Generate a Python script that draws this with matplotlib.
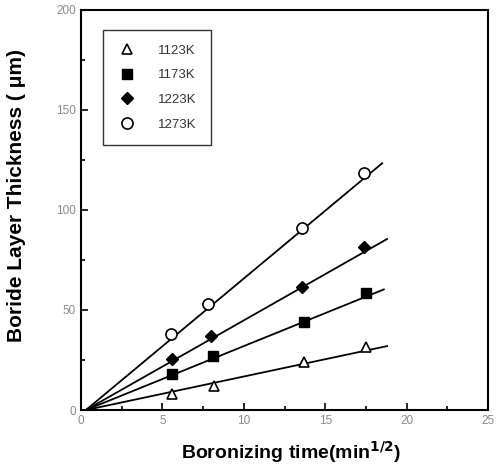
import matplotlib
matplotlib.use("Agg")
import matplotlib.pyplot as plt
import numpy as np

# Data (x = sqrt(time) in min^1/2, y = thickness in um)
labels = ["1123K", "1173K", "1223K", "1273K"]
x_1123 = [5.6, 8.2, 13.7, 17.5]
y_1123 = [8.0, 12.0, 24.0, 31.5]
x_1173 = [5.6, 8.1, 13.7, 17.5]
y_1173 = [18.0, 27.0, 44.0, 58.5]
x_1223 = [5.6, 8.0, 13.6, 17.4]
y_1223 = [25.5, 37.0, 61.5, 81.5]
x_1273 = [5.5, 7.8, 13.6, 17.4]
y_1273 = [38.0, 53.0, 91.0, 118.5]
line_end = [18.8, 18.6, 18.8, 18.5]

xticks = [0, 5, 10, 15, 20, 25]
yticks = [0, 50, 100, 150, 200]

plt.rcParams['font.family'] = ['Liberation Sans', 'DejaVu Sans']
fig = plt.figure(figsize=(5.0, 4.67), dpi=100)
ax = fig.add_axes([0.162, 0.122, 0.814, 0.857])

series = [(x_1123, y_1123), (x_1173, y_1173), (x_1223, y_1223), (x_1273, y_1273)]
styles = [
    dict(marker='^', mfc='white', mec='black', ms=7, mew=1.2),
    dict(marker='s', mfc='black', mec='black', ms=7),
    dict(marker='D', mfc='black', mec='black', ms=6),
    dict(marker='o', mfc='white', mec='black', ms=8, mew=1.2),
]
for (xs, ys), st, lab, xe in zip(series, styles, labels, line_end):
    xs = np.array(xs); ys = np.array(ys)
    k = np.sum(xs * ys) / np.sum(xs * xs)
    xl = np.array([0.3, xe])
    ax.plot(xl, k * (xl - 0.3), color='black', lw=1.3, zorder=2)
    ax.plot(xs, ys, ls='none', label=lab, zorder=3, **st)

ax.set_xlim(0, 25)
ax.set_ylim(0, 200)
ax.set_xticks(xticks)
ax.set_yticks(yticks)
ax.set_xticks(np.arange(2.5, 25, 5), minor=True)
ax.set_yticks(np.arange(25, 200, 50), minor=True)
ax.tick_params(which='both', direction='in', labelcolor='#8a8a8a', labelsize=8.5, width=1.2)
ax.tick_params(which='major', length=5)
ax.tick_params(which='minor', length=3)
for sp in ax.spines.values():
    sp.set_linewidth(1.5)

ax.set_xlabel("Boronizing time(min$^{\\mathbf{1/2}}$)", fontsize=14, fontweight='bold')
ax.set_ylabel("Boride Layer Thickness ( μm)", fontsize=15, fontweight='bold')
ax.xaxis.set_label_coords(0.516, -0.072)
ax.yaxis.set_label_coords(-0.135, 0.535)

leg = ax.legend(loc='upper left', bbox_to_anchor=(0.054, 0.95), borderaxespad=0,
                frameon=True, fancybox=False,
                edgecolor='black', fontsize=9.5, handletextpad=1.6, labelspacing=0.95,
                borderpad=1.1, handlelength=1.5)
leg.get_frame().set_linewidth(1.0)
for t in leg.get_texts():
    t.set_color('#333333')

fig.savefig("out.png", dpi=100)
